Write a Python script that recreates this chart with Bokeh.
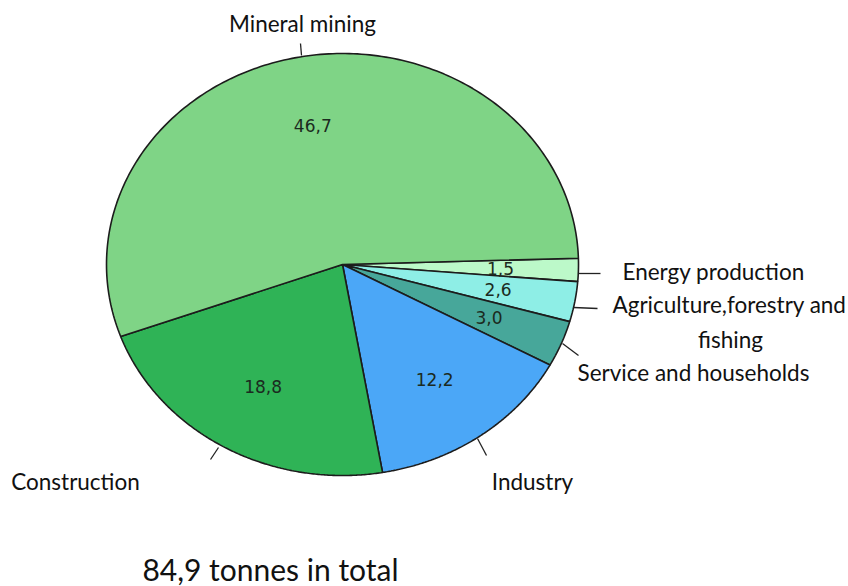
import numpy as np
from bokeh.plotting import figure
from bokeh.models import Range1d, ColumnDataSource
from bokeh.core.properties import value
from bokeh.embed import file_html
from bokeh.resources import INLINE

# Data (clockwise order starting just above 3 o'clock)
categories = ["Energy production", "Agriculture,forestry and fishing", "Service and households",
              "Industry", "Construction", "Mineral mining"]
values = [1.5, 2.6, 3.0, 12.2, 18.8, 46.7]
value_labels = ["1,5", "2,6", "3,0", "12,2", "18,8", "46,7"]
colors = ["#bcf9c9", "#8eeee6", "#47a79a", "#4ba7f7", "#2fb356", "#7fd486"]
total_label = "84,9 tonnes in total"

W, H = 848, 586
cx, cy = 342, 264
rx, ry = 236, 211
start_deg = 1.7
label_frac = 0.67

p = figure(width=W, height=H, output_backend="svg", toolbar_location=None,
           x_range=Range1d(0, W), y_range=Range1d(H, 0), min_border=0)
p.axis.visible = False
p.grid.visible = False
p.outline_line_color = None
p.background_fill_color = "white"

vals = np.array(values, dtype=float)
fr = vals / vals.sum()
ends = start_deg - np.cumsum(fr) * 360.0
starts = np.concatenate([[start_deg], ends[:-1]])

xs, ys, lx, ly = [], [], [], []
for s, e in zip(starts, ends):
    t = np.radians(np.linspace(s, e, 200))
    xs.append(np.concatenate([[cx], cx + rx * np.cos(t)]).tolist())
    ys.append(np.concatenate([[cy], cy - ry * np.sin(t)]).tolist())
    m = np.radians((s + e) / 2)
    lx.append(cx + label_frac * rx * np.cos(m))
    ly.append(cy - label_frac * ry * np.sin(m))

src = ColumnDataSource(dict(xs=xs, ys=ys, color=colors, lx=lx, ly=ly, lab=value_labels))
p.patches("xs", "ys", fill_color="color", line_color="#1c1c1c", line_width=1.6, source=src)
p.text("lx", "ly", text="lab", source=src, text_align="center", text_baseline="middle",
       text_font=value("DejaVu Sans"), text_font_size="17px", text_color="#1b2a20")

# outer labels
out_text = ["Mineral mining", "Energy production", "Agriculture,forestry and", "fishing",
            "Service and households", "Industry", "Construction"]
out_x = [302, 622, 612, 730, 577, 532, 75]
out_y = [23, 271, 304, 339, 372, 481, 481]
out_align = ["center", "left", "left", "center", "left", "center", "center"]
p.text(out_x, out_y, text=out_text,
       text_align=out_align, text_baseline="middle", text_font=value("Lato"),
       text_font_size="22.5px", text_color="#111111")

# leader ticks
tx0 = [300, 578, 573, 562, 477, 218]
ty0 = [43, 273, 307, 343, 438, 447]
tx1 = [301, 600, 597, 578, 486, 210]
ty1 = [55, 273, 308, 355, 455, 459]
p.segment(tx0, ty0, tx1, ty1, line_color="#222222", line_width=1.3)

p.text([270], [568], text=[total_label], text_align="center", text_baseline="middle",
       text_font=value("Lato"), text_font_size="30px", text_color="#111111")

open("out.html", "w").write(file_html(p, INLINE))
